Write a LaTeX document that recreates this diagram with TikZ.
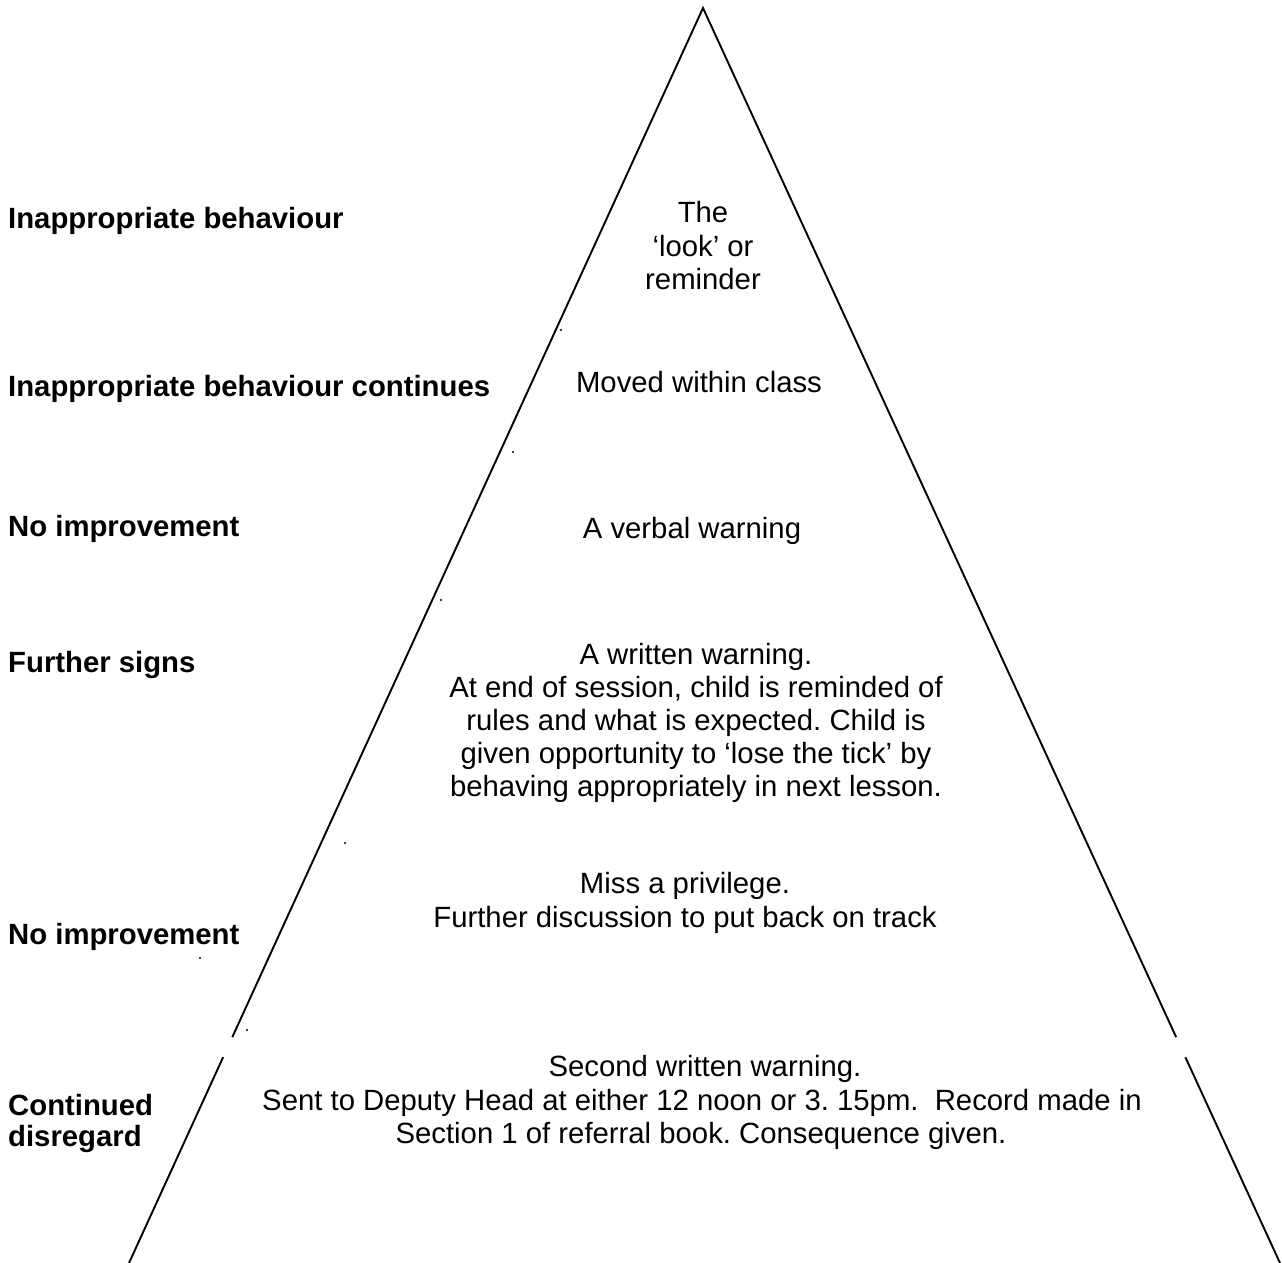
\documentclass[tikz,border=0pt]{standalone}
\usepackage{fontspec}
\setmainfont{Liberation Sans}
\usetikzlibrary{calc}
\frenchspacing
\tikzset{
  lbl/.style={anchor=base west, inner sep=0pt, font=\fontsize{29.3}{33}\selectfont\bfseries},
  ctr/.style={anchor=base, inner sep=0pt, font=\fontsize{29.3}{33}\selectfont},
  side/.style={line width=1.9pt, line cap=butt},
  speck/.style={fill=black}
}
\begin{document}
\begin{tikzpicture}[x=1pt,y=-1pt]
\useasboundingbox (0,0) rectangle (1282,1263);
% triangle
\coordinate (apex) at (703,8);
\coordinate (bl) at (129,1263);
\coordinate (br) at (1280,1263);
\coordinate (lg1) at ($(apex)!0.82!(bl)$);
\coordinate (lg2) at ($(apex)!0.836!(bl)$);
\coordinate (rg1) at ($(apex)!0.82!(br)$);
\coordinate (rg2) at ($(apex)!0.836!(br)$);
\draw[side, line join=miter] (lg1) -- (apex) -- (rg1);
\draw[side] (lg2) -- (bl);
\draw[side] (rg2) -- (br);
% specks
\foreach \p in {(561,330),(513,452),(441,600),(345,843),(200,958),(247,1030)}
  \fill[speck] \p circle (1.1pt);
% left labels
\node[lbl] (l1) at (8,228) {Inappropriate behaviour};
\node[lbl] (l2) at (8,396) {Inappropriate behaviour continues};
\node[lbl] (l3) at (8,536) {No improvement};
\node[lbl] (l4) at (8,672) {Further signs};
\node[lbl] (l5) at (8,944) {No improvement};
\node[lbl] (l6a) at (8,1115) {Continued};
\node[lbl] (l6b) at (8,1146) {disregard};
% centre texts
\node[ctr] (c1a) at (703,222) {The};
\node[ctr] (c1b) at (703,256) {‘look’ or};
\node[ctr] (c1c) at (703,289) {reminder};
\node[ctr] (c2) at (699,392) {Moved within class};
\node[ctr] (c3) at (692,538) {A verbal warning};
\node[ctr] (c4a) at (696,664) {A written warning.};
\node[ctr] (c4b) at (696,697) {At end of session, child is reminded of};
\node[ctr] (c4c) at (696,730) {rules and what is expected. Child is};
\node[ctr] (c4d) at (696,763) {given opportunity to ‘lose the tick’ by};
\node[ctr] (c4e) at (696,796) {behaving appropriately in next lesson.};
\node[ctr] (c5a) at (685,893) {Miss a privilege.};
\node[ctr] (c5b) at (685,927) {Further discussion to put back on track};
\node[ctr] (c6a) at (705,1076) {Second written warning.};
\node[ctr] (c6b) at (702,1110) {Sent to Deputy Head at either 12 noon or 3. 15pm.~~Record made in};
\node[ctr] (c6c) at (701,1143) {Section 1 of referral book. Consequence given.};
\end{tikzpicture}
\end{document}
